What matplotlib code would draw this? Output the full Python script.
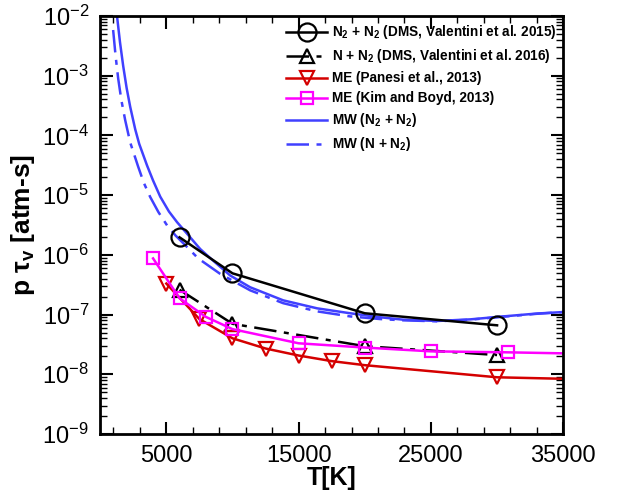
import numpy as np
import matplotlib
matplotlib.use("Agg")
import matplotlib.pyplot as plt
from matplotlib.ticker import MultipleLocator, LogLocator, NullFormatter
from matplotlib.lines import Line2D

plt.rcParams['font.family'] = ['Liberation Sans', 'DejaVu Sans']
plt.rcParams['mathtext.fontset'] = 'custom'
plt.rcParams['mathtext.rm'] = 'Liberation Sans'
plt.rcParams['mathtext.it'] = 'Liberation Sans:italic'
plt.rcParams['mathtext.bf'] = 'Liberation Sans:bold'

# === data ===
# N2 + N2, DMS (Valentini 2015)
dms15_T = [6000, 10000, 20000, 30000]
dms15_v = [1.96e-6, 4.9e-7, 1.05e-7, 6.6e-8]

# N + N2, DMS (Valentini 2016)
dms16_T = [6000, 10000, 20000, 30000]
dms16_v = [2.6e-7, 7.0e-8, 2.95e-8, 2.1e-8]

# ME Panesi 2013 (markers) + fitted line up to 35000
panesi_T = [5000, 7500, 10000, 12500, 15000, 17500, 20000, 30000]
panesi_v = [3.3e-7, 8.4e-8, 4.0e-8, 2.7e-8, 2.06e-8, 1.66e-8, 1.42e-8, 8.9e-9]
panesi_end_T = 35000
panesi_end_v = 8.4e-9

# ME Kim & Boyd 2013
kim_T = [4000, 6000, 8000, 10000, 15000, 20000, 25000, 30800]
kim_v = [8.7e-7, 1.87e-7, 9.1e-8, 5.7e-8, 3.3e-8, 2.8e-8, 2.42e-8, 2.33e-8]
kim_end_T = 35000
kim_end_v = 2.24e-8

# MW (N2 + N2)
mw_n2_T = [1250, 1500, 1740, 2000, 2270, 2650, 2950, 3550, 4000, 4540, 5200,
           5820, 6650, 7560, 8320, 9830, 11340, 13830, 16400, 18900, 21170,
           22900, 25480, 27970, 30460, 33030, 35000]
mw_n2_v = [1.1e-2, 3.6e-3, 1.45e-3, 6.2e-4, 3.0e-4, 1.26e-4, 7.2e-5, 3.1e-5,
           1.75e-5, 9.4e-6, 5.3e-6, 3.5e-6, 2.15e-6, 1.25e-6, 8.8e-7,
           4.5e-7, 2.86e-7, 1.73e-7, 1.27e-7, 1.05e-7, 9.0e-8, 8.2e-8,
           7.8e-8, 8.3e-8, 9.3e-8, 1.04e-7, 1.1e-7]

# MW (N + N2)
mw_n_T = [980, 1160, 1360, 1600, 1890, 2270, 2870, 3300, 3780, 4400, 5060,
          5700, 6430, 7410, 9070, 11340, 13830, 16400, 18900, 21170, 22900,
          25480, 27970, 30460, 33030, 35000]
mw_n_v = [5.8e-3, 2.2e-3, 9.0e-4, 3.9e-4, 1.8e-4, 7.6e-5, 3.0e-5, 1.6e-5,
          9.3e-6, 5.2e-6, 3.1e-6, 2.1e-6, 1.45e-6, 8.7e-7, 4.8e-7, 2.54e-7,
          1.55e-7, 1.13e-7, 9.3e-8, 8.4e-8, 8.0e-8, 7.7e-8, 8.2e-8, 9.2e-8,
          1.03e-7, 1.1e-7]

RED = '#d40000'
MAG = '#ff00ff'
BLUE = '#4040ff'
DASHDOT = (0, (9, 3, 2, 3))

fig = plt.figure(figsize=(6.3, 4.96), dpi=100)
ax = fig.add_axes([0.159, 0.125, 0.735, 0.843])

ax.plot(mw_n2_T, mw_n2_v, color=BLUE, lw=1.8)
ax.plot(mw_n_T, mw_n_v, color=BLUE, lw=1.8, ls=DASHDOT)

ax.plot(dms15_T, dms15_v, color='black', lw=1.8, marker='o', ms=13,
        mfc='none', mec='black', mew=1.6)
ax.plot(dms16_T, dms16_v, color='black', lw=1.8, ls=DASHDOT, marker='^',
        ms=10, mfc='none', mec='black', mew=1.6)

ax.plot(panesi_T + [panesi_end_T], panesi_v + [panesi_end_v], color=RED, lw=1.8)
ax.plot(panesi_T, panesi_v, ls='none', marker='v', ms=10, mfc='none',
        mec=RED, mew=1.6)

ax.plot(kim_T + [kim_end_T], kim_v + [kim_end_v], color=MAG, lw=1.8)
ax.plot(kim_T, kim_v, ls='none', marker='s', ms=9, mfc='none',
        mec=MAG, mew=1.6)

ax.set_yscale('log')
ax.set_xlim(0, 35000)
ax.set_ylim(1e-9, 1e-2)

ax.set_xticks([5000, 15000, 25000, 35000])
ax.xaxis.set_minor_locator(MultipleLocator(2000, offset=1000))
ax.yaxis.set_major_locator(LogLocator(base=10, numticks=20))
ax.yaxis.set_minor_locator(LogLocator(base=10, subs=np.arange(2, 10), numticks=20))
ax.yaxis.set_minor_formatter(NullFormatter())

ax.tick_params(which='both', direction='in', top=True, right=True, width=1.5)
ax.tick_params(which='major', length=9, labelsize=17, pad=8)
ax.tick_params(which='minor', length=5, width=1.0)
for sp in ax.spines.values():
    sp.set_linewidth(2)

ax.set_xlabel('T[K]', fontsize=18, fontweight='bold', labelpad=-1)
ax.set_ylabel(r'p τ$_\mathregular{v}$ [atm-s]', fontsize=19, fontweight='bold',
              labelpad=4)

handles = [
    Line2D([], [], color='black', lw=1.8, marker='o', ms=13, mfc='none', mew=1.6),
    Line2D([], [], color='black', lw=1.8, ls=DASHDOT, marker='^', ms=10,
           mfc='none', mew=1.6),
    Line2D([], [], color=RED, lw=1.8, marker='v', ms=10, mfc='none', mew=1.6),
    Line2D([], [], color=MAG, lw=1.8, marker='s', ms=9, mfc='none', mew=1.6),
    Line2D([], [], color=BLUE, lw=1.8),
    Line2D([], [], color=BLUE, lw=1.8, ls=DASHDOT),
]
labels = [
    r'N$_\mathbf{2}$ + N$_\mathbf{2}$ (DMS, Valentini et al. 2015)',
    r'N + N$_\mathbf{2}$ (DMS, Valentini et al. 2016)',
    'ME (Panesi et al., 2013)',
    'ME (Kim and Boyd, 2013)',
    r'MW (N$_\mathbf{2}$ + N$_\mathbf{2}$)',
    r'MW (N + N$_\mathbf{2}$)',
]
ax.legend(handles, labels, loc='upper left', bbox_to_anchor=(0.39, 0.995),
          frameon=False, prop={'weight': 'bold', 'size': 9.8},
          handlelength=3.0, handletextpad=0.4, labelspacing=0.44,
          borderaxespad=0.0, numpoints=1)

fig.savefig('out.png', dpi=100)
